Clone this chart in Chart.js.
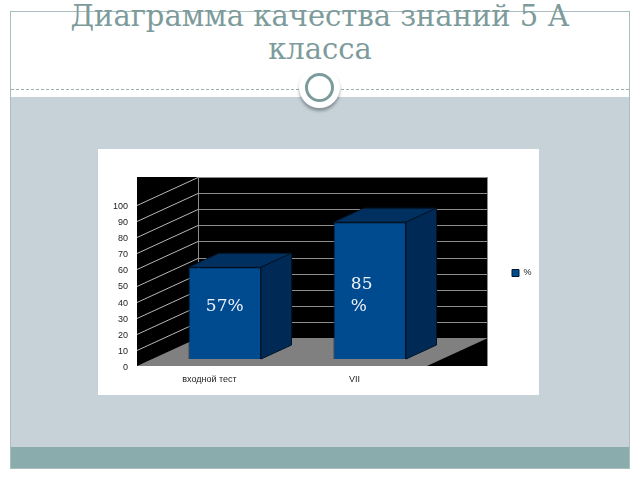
<!DOCTYPE html>
<html>
<head>
<meta charset="utf-8">
<script src="https://cdn.jsdelivr.net/npm/chart.js@4"></script>
<style>
  body { margin: 0; width: 640px; height: 480px; background: #fff; position: relative; overflow: hidden; }
  #frame { position: absolute; left: 10px; top: 11px; width: 618px; height: 456px; border: 1px solid #a9bfbf; }
  #band { position: absolute; left: 11px; top: 97px; width: 618px; height: 350px; background: #c6d1d8; }
  #foot { position: absolute; left: 11px; top: 447px; width: 618px; height: 21px; background: #8aacad; }
  #dash { position: absolute; left: 11px; top: 89px; width: 618px; border-top: 1px dashed #9db0b0; }
  #disc { position: absolute; left: 299px; top: 67px; width: 41px; height: 41px; border-radius: 50%; background: #fff;
          box-shadow: 0 3px 3px rgba(60,70,70,0.45); }
  #ring { position: absolute; left: 305px; top: 73px; width: 23px; height: 23px; border-radius: 50%; border: 3.5px solid #7c9c9c; background: #fff; }
  #title { position: absolute; left: 0; top: 0; width: 640px; text-align: center; color: #7d9b9b;
           font-family: "DejaVu Serif", serif; font-size: 29px; line-height: 33px; }
  #box { position: absolute; left: 98px; top: 149px; width: 441px; height: 246px; background: #fff; }
</style>
</head>
<body>
<div id="frame"></div>
<div id="band"></div>
<div id="foot"></div>
<div id="dash"></div>
<div id="disc"></div>
<div id="ring"></div>
<div id="title">Диаграмма качества знаний 5 А<br>класса</div>
<div id="box"><canvas id="chart" width="441" height="246"></canvas></div>
<script>
const categories = ['входной тест', 'VII'];
const values = [57, 85];
const valueLabels = [['57%'], ['85', '%']];
const seriesName = '%';
const yTicks = [0, 10, 20, 30, 40, 50, 60, 70, 80, 90, 100];

// depth of the 3D box, px
const DX = 61, DY = -28;

function poly(ctx, pts, fill, stroke) {
    ctx.beginPath();
    ctx.moveTo(pts[0][0], pts[0][1]);
    for (let i = 1; i < pts.length; i++) ctx.lineTo(pts[i][0], pts[i][1]);
    ctx.closePath();
    ctx.fillStyle = fill;
    ctx.fill();
    if (stroke) { ctx.strokeStyle = stroke; ctx.lineWidth = 1; ctx.stroke(); }
}

const box3d = {
    id: 'box3d',
    afterLayout(chart) {
        chart.legend._nudged = false;
    },
    beforeDraw(chart) {
        // lift the legend up, like in the slide
        const lg = chart.legend;
        if (lg && !lg._nudged) {
            lg.top -= 27;
            lg.bottom -= 27;
            lg._nudged = true;
        }
    },
    beforeDatasetsDraw(chart) {
        const {ctx, chartArea: a, scales: {y}} = chart;
        ctx.save();
        ctx.fillStyle = '#000';
        ctx.fillRect(a.left, a.top + DY, a.right + DX - a.left, a.bottom - a.top - DY);
        poly(ctx, [[a.left, a.bottom], [a.right, a.bottom], [a.right + DX, a.bottom + DY], [a.left + DX, a.bottom + DY]], '#808080');

        ctx.lineWidth = 1;
        yTicks.forEach(v => {
            if (v === 0) return;
            const py = Math.round(y.getPixelForValue(v)) + 0.5;
            ctx.strokeStyle = '#b8b8b8';
            ctx.beginPath();
            ctx.moveTo(a.left, py);
            ctx.lineTo(a.left + DX, py + DY);
            ctx.stroke();
            ctx.strokeStyle = '#8c8c8c';
            ctx.beginPath();
            ctx.moveTo(a.left + DX, py + DY);
            ctx.lineTo(a.right + DX, py + DY);
            ctx.stroke();
        });
        ctx.strokeStyle = '#8c8c8c';
        ctx.beginPath();
        ctx.moveTo(a.left + DX + 0.5, a.top + DY);
        ctx.lineTo(a.left + DX + 0.5, a.bottom + DY);
        ctx.moveTo(a.right + DX - 0.5, a.top + DY);
        ctx.lineTo(a.right + DX - 0.5, a.bottom);
        ctx.stroke();
        ctx.restore();

        // bars stand in the middle of the depth
        ctx.save();
        ctx.translate(DX * 0.25, DY * 0.25);
    },
    afterDatasetsDraw(chart) {
        const ctx = chart.ctx;
        const ox = DX * 0.5, oy = DY * 0.5;
        chart.getDatasetMeta(0).data.forEach((bar, i) => {
            const {x, y, base, width} = bar.getProps(['x', 'y', 'base', 'width'], true);
            const l = x - width / 2, r = x + width / 2;
            poly(ctx, [[l, y], [l + ox, y + oy], [r + ox, y + oy], [r, y]], '#00305f', '#001428');
            poly(ctx, [[r, y], [r + ox, y + oy], [r + ox, base + oy], [r, base]], '#002a55', '#001428');

            const lines = valueLabels[i];
            ctx.font = '17px "DejaVu Serif", serif';
            ctx.fillStyle = '#eef2f8';
            ctx.textBaseline = 'middle';
            ctx.textAlign = 'left';
            const left = x - ctx.measureText(lines.join('')).width / 2;
            const lastY = base - 52;
            lines.forEach((t, k) => {
                ctx.fillText(t, left, lastY - (lines.length - 1 - k) * 22);
            });
        });
        ctx.restore();
    }
};

new Chart(document.getElementById('chart'), {
    type: 'bar',
    data: {
        labels: categories,
        datasets: [{
            label: seriesName,
            data: values,
            backgroundColor: '#004b8f',
            borderColor: '#001428',
            borderWidth: 1,
            categoryPercentage: 0.5,
            barPercentage: 1
        }]
    },
    options: {
        responsive: false,
        animation: false,
        events: [],
        layout: { padding: { top: 56, left: 0, right: 0, bottom: 0 } },
        plugins: {
            legend: {
                position: 'right',
                maxWidth: 112,
                labels: {
                    boxWidth: 7,
                    boxHeight: 7,
                    padding: 85,
                    color: '#222',
                    font: { family: '"Liberation Sans", Arial, sans-serif', size: 9 }
                }
            },
            tooltip: { enabled: false }
        },
        scales: {
            x: {
                grid: { display: false, drawTicks: false },
                border: { display: false },
                ticks: { padding: 8, color: '#222', font: { family: '"Liberation Sans", Arial, sans-serif', size: 9 } },
                afterFit: s => { s.height = 29; }
            },
            y: {
                min: 0,
                max: 100,
                afterBuildTicks: s => { s.ticks = yTicks.map(v => ({ value: v })); },
                grid: { display: false, drawTicks: false },
                border: { display: false },
                ticks: { padding: 9, labelOffset: 1.5, color: '#222', font: { family: '"Liberation Sans", Arial, sans-serif', size: 9 } },
                afterFit: s => { s.width = 39; }
            }
        }
    },
    plugins: [box3d]
});
</script>
</body>
</html>
